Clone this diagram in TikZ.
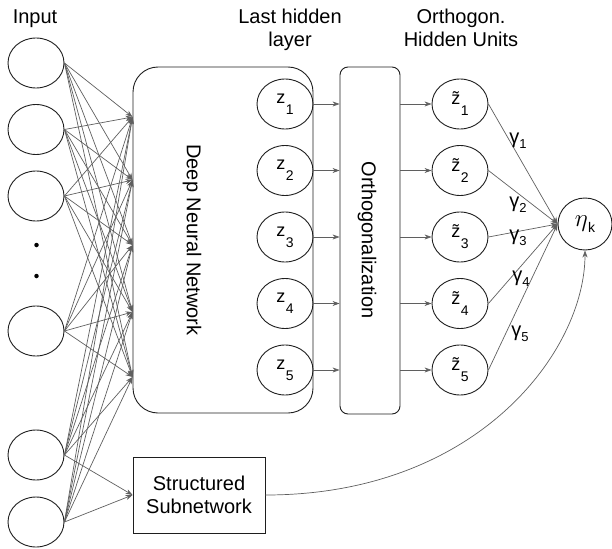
\documentclass[tikz,border=0pt]{standalone}
\usepackage{fontspec}
\setmainfont{Liberation Sans}
\usetikzlibrary{positioning, arrows.meta, calc, shapes.geometric}
\definecolor{LineGray}{RGB}{95,95,95}
\definecolor{EdgeDark}{RGB}{30,30,30}
\newcommand{\lowidx}[2][11pt]{\hspace{0.5pt}\raisebox{-#1}{\fontsize{14}{14}\selectfont #2}}
\newcommand{\gamidx}[1]{\raisebox{-5pt}{\fontsize{13}{13}\selectfont #1}}
\tikzset{
    unitnode/.style={
        ellipse, draw=EdgeDark, line width=0.9pt, minimum width=56pt,
        minimum height=50pt, inner sep=0pt, font=\fontsize{18}{18}\selectfont
    },
    blocknode/.style={
        draw=EdgeDark, line width=0.9pt, inner sep=0pt
    },
    dotnode/.style={
        circle, fill=black, minimum size=4.5pt, inner sep=0pt
    },
    conn/.style={
        -{Stealth[length=7pt,width=5pt]}, LineGray, line width=0.7pt
    },
    headlbl/.style={
        font=\fontsize{20}{23}\selectfont, align=center, anchor=north, inner sep=0pt
    },
    gammalbl/.style={
        font=\fontsize{20}{20}\selectfont, inner sep=0pt
    }
}

\begin{document}
\begin{tikzpicture}[x=1pt, y=-1pt]
    \useasboundingbox (0,0) rectangle (612,548);

    % --- Input ---
    \foreach \i/\y in {1/63,2/129.5,3/196,4/331,5/455,6/522}
        \node[unitnode] (in\i) at (36,\y) {};
    \node[dotnode] (dot1) at (36.5,245) {};
    \node[dotnode] (dot2) at (36.5,276) {};

    % --- Deep Neural Network ---
    \node[blocknode, rounded corners=25pt, minimum width=180pt, minimum height=346pt] (dnn) at (223,240) {};
    \node[rotate=-90, font=\fontsize{20}{20}\selectfont] (dnnlbl) at (192,240) {Deep Neural Network};
    \foreach \i/\y in {1/117,2/180,3/245,4/312,5/377}
        \coordinate (t\i) at (dnn.west |- 0,\y);

    % --- Last hidden layer & orthogonalization ---
    \node[blocknode, rounded corners=8pt, minimum width=60pt, minimum height=347pt] (orth) at (370,240.5) {};
    \node[rotate=-90, font=\fontsize{20}{20}\selectfont] (orthlbl) at (367,240) {Orthogonalization};
    \foreach \i/\y in {1/104,2/170.5,3/237,4/303.5,5/370} {
        \node[unitnode] (z\i) at (285,\y) {z\lowidx{\i}};
        \node[unitnode] (zt\i) at (460,\y) {\~{z}\lowidx{\i}};
    }

    % --- Output ---
    \node[unitnode, minimum width=54pt, minimum height=52pt] (eta) at (585,224) {\fontsize{23}{23}\selectfont$\eta$\lowidx[6pt]{k}};
    \node[blocknode, minimum width=132pt, minimum height=76pt, align=center,
          font=\fontsize{20}{23}\selectfont] (sub) at (199,495) {Structured\\Subnetwork};

    % Überschriften
    \node[headlbl] (inlbl) at (35,10) {Input};
    \node[headlbl] (lastlbl) at (290,9) {Last hidden\\layer};
    \node[headlbl] (orthhead) at (461,9) {Orthogon.\\Hidden Units};

    % --- connections ---
    \foreach \s in {1,...,6}
        \foreach \t in {1,...,5}
            \draw[conn] (in\s.east) -- (t\t);
    \draw[conn] (in5.east) -- (sub.west);
    \draw[conn] (in6.east) -- (sub.west);
    \foreach \i in {1,...,5} {
        \draw[conn] (z\i.east) -- (z\i.east -| orth.west);
        \draw[conn] (zt\i.west -| orth.east) -- (zt\i.west);
        \draw[conn] (zt\i.east) -- (eta.west);
    }
    \draw[conn] (sub.east) .. controls +(213,0) and +(0,100) .. (eta.south);

    % Gewichte
    \node[gammalbl] (g1) at (518,141) {γ\gamidx{1}};
    \node[gammalbl] (g2) at (518,205) {γ\gamidx{2}};
    \node[gammalbl] (g3) at (518,238) {γ\gamidx{3}};
    \node[gammalbl] (g4) at (521,279) {γ\gamidx{4}};
    \node[gammalbl] (g5) at (520,334) {γ\gamidx{5}};
\end{tikzpicture}
\end{document}
